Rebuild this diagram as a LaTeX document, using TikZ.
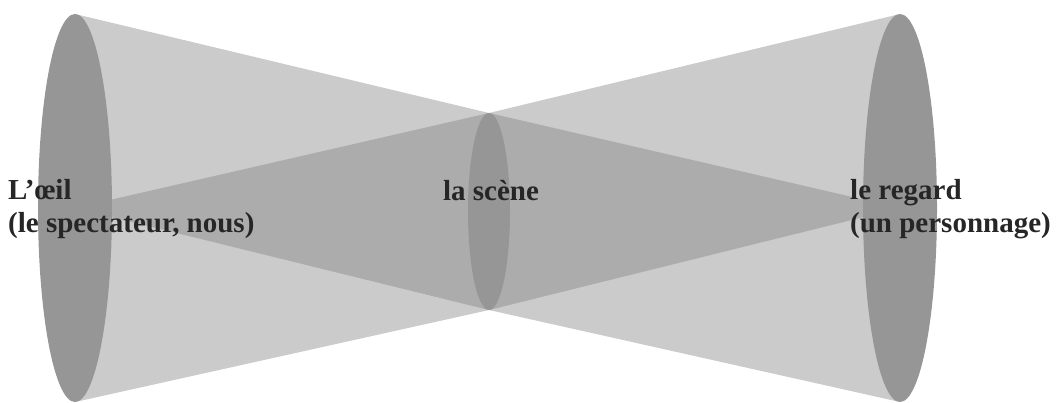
\documentclass[tikz,border=0pt]{standalone}
\usepackage{fontspec}
\setmainfont{Liberation Serif}
\definecolor{conegray}{RGB}{203,203,203}
\definecolor{wedgegray}{RGB}{172,172,172}
\definecolor{lensgray}{RGB}{150,150,150}
\tikzset{
  cone/.style={fill=conegray},
  wedge/.style={fill=wedgegray},
  lens/.style={fill=lensgray},
  label/.style={align=left, inner sep=0pt, text=black!85, font=\fontsize{29}{33}\selectfont\bfseries}
}
\begin{document}
\begin{tikzpicture}[x=1pt, y=-1pt]
    \useasboundingbox (0,0) rectangle (1059,403);

    % Cones
    \fill[cone] (75,14) -- (489,113) -- (489,310) -- (75,402) -- cycle;
    \fill[cone] (900,14) -- (489,113) -- (489,310) -- (900,402) -- cycle;

    % Gaze wedges
    \fill[wedge] (75,208) -- (489,113) -- (489,310) -- cycle;
    \fill[wedge] (900,208) -- (489,113) -- (489,310) -- cycle;

    % Ellipses
    \fill[lens] (75,208) ellipse [x radius=37, y radius=194];
    \fill[lens] (900,208) ellipse [x radius=37, y radius=194];
    \fill[lens] (489,211.5) ellipse [x radius=21, y radius=98.5];

    % Labels
    \node[label, anchor=base west] (oeil) at (8,233) {L’œil\\(le spectateur, nous)};
    \node[label, anchor=base] (scene) at (491,201) {la scène};
    \node[label, anchor=base west] (regard) at (850,233) {le regard\\(un personnage)};
\end{tikzpicture}
\end{document}
